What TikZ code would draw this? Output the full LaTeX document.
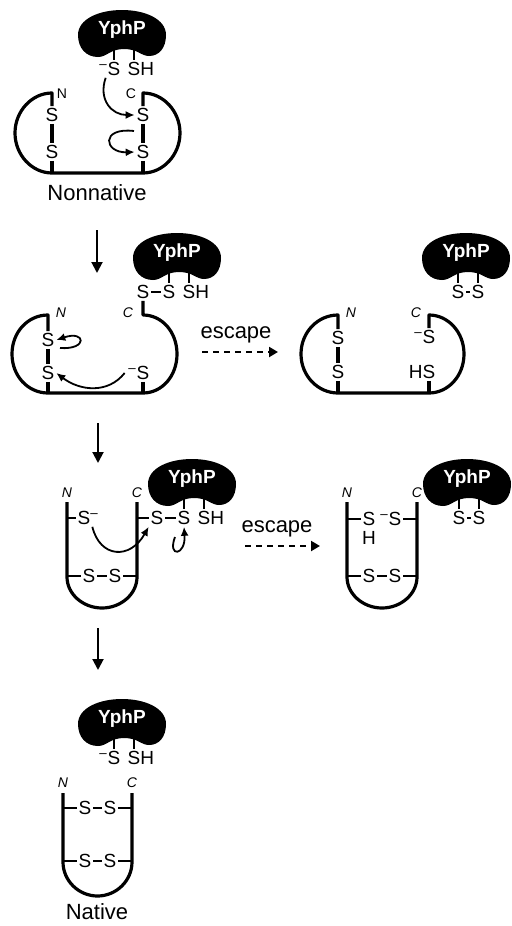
\documentclass[tikz,border=0pt]{standalone}
\usepackage{fontspec}
\setmainfont{Liberation Sans}
\usetikzlibrary{arrows.meta}
\newcommand\anion{\textsuperscript{--}}
\tikzset{
  yphp/.pic={
    \fill (-44,2) .. controls (-44,-14) and (-23,-23) .. (0,-23)
      .. controls (23,-23) and (44,-14) .. (44,2)
      .. controls (44,15) and (37,23) .. (27,23)
      .. controls (19,23) and (16,16) .. (2,16)
      .. controls (-12,16) and (-15,24) .. (-24,24)
      .. controls (-36,24) and (-44,15) .. (-44,2) -- cycle;
    \node[font=\fontsize{9.5}{10}\selectfont\bfseries,text=white] (-name) at (0,-3) {YphP};
    \coordinate (-l) at (-8,15);
    \coordinate (-r) at (12,15);
  }
}

\begin{document}
\begin{tikzpicture}[x=0.5pt,y=-0.5pt,
  backbone/.style={line width=1.6pt,line join=round},
  bond/.style={line width=1.2pt},
  atom/.style={font=\fontsize{9.5}{10}\selectfont,inner sep=.8pt,text height=6.8pt,text depth=0pt},
  term/.style={font=\fontsize{7}{8}\selectfont\itshape,inner sep=0pt},
  captext/.style={font=\fontsize{11}{13}\selectfont,inner sep=1pt},
  react/.style={line width=.9pt,-{Latex[length=4.5pt,width=4pt]}},
  advance/.style={line width=1pt,-{Triangle[length=5.5pt,width=5.5pt]}},
  leak/.style={line width=1pt,dash pattern=on 3pt off 2.5pt,-{Triangle[length=4.5pt,width=5pt]}}]
\useasboundingbox (0,0) rectangle (512,926);
\fill[white] (0,0) rectangle (512,926);

% nonnative
\pic (e1) at (122,33) {yphp};
\node[atom] (e1a) at (e1-l |- 0,69) {\llap{\anion}S};
\node[atom] (e1b) at (e1-r |- 0,69) {S\rlap{H}};
\draw[bond] (e1-l) -- (e1a);
\draw[bond] (e1-r) -- (e1b);
\node[atom] (p1a) at (52,115) {S};
\node[atom] (p1b) at (52,152) {S};
\node[atom] (p1c) at (143,115) {S};
\node[atom] (p1d) at (143,152) {S};
\draw[backbone] (p1a) -- (52,93) .. controls (32,93) and (15,111) .. (15,133) .. controls (15,155) and (32,173) .. (52,173)
  -- (143,173) .. controls (163,173) and (180,155) .. (180,133) .. controls (180,111) and (163,93) .. (143,93) -- (p1c);
\draw[backbone] (p1a) -- (p1b) -- (52,173);
\draw[backbone] (p1c) -- (p1d) -- (143,173);
\node[term,font=\fontsize{7}{8}\selectfont] (p1n) at (62,94) {N};
\node[term,font=\fontsize{7}{8}\selectfont] (p1k) at (131,94) {C};
\draw[react] (e1a.south west) .. controls (98,100) and (112,115) .. (p1c.west);
\coordinate (p1t) at (134,131);
\draw[react] (p1t) .. controls (100,127) and (104,153) .. (p1d.west);
\node[captext] (nonnative) at (97,193) {Nonnative};

\coordinate (s1) at (97,230);
\coordinate (s2) at (97,273);
\draw[advance] (s1) -- (s2);

% mixed disulfide
\pic (e2) at (177,256) {yphp};
\node[atom] (e2a) at (e2-l |- 0,292) {S};
\node[atom] (e2b) at (e2-r |- 0,292) {S\rlap{H}};
\draw[bond] (e2-l) -- (e2a);
\draw[bond] (e2-r) -- (e2b);
\node[atom] (q2) at (143,292) {S};
\draw[bond] (q2) -- (e2a);
\node[atom] (q2a) at (48,340) {S};
\node[atom] (q2b) at (48,373) {S};
\node[atom] (q2c) at (143,373) {\llap{\anion}S};
\draw[backbone] (q2a) -- (48,315) .. controls (28,315) and (12,332) .. (12,354) .. controls (12,376) and (28,393) .. (48,393)
  -- (143,393) .. controls (162,393) and (177,376) .. (177,354) .. controls (177,332) and (162,315) .. (143,315) -- (q2);
\draw[backbone] (q2a) -- (q2b) -- (48,393);
\draw[backbone] (q2c) -- (143,393);
\node[term] (q2n) at (61,313) {N};
\node[term] (q2k) at (128,313) {C};
\coordinate (q2t) at (60,348);
\draw[react] (q2t) .. controls (88,350) and (86,330) .. (q2a.east);
\draw[react] ([xshift=-5pt]q2c.west) .. controls (108,394) and (80,391) .. (q2b.east);

\node[captext] (esc1) at (236,335) {escape};
\coordinate (x1a) at (202,352);
\coordinate (x1b) at (278,352);
\draw[leak] (x1a) -- (x1b);

\pic (e3) at (466,256) {yphp};
\node[atom] (e3a) at (e3-l |- 0,292) {S};
\node[atom] (e3b) at (e3-r |- 0,292) {S};
\draw[bond] (e3-l) -- (e3a);
\draw[bond] (e3-r) -- (e3b);
\draw[bond] (e3a) -- (e3b);
\node[atom] (r3a) at (338,338) {S};
\node[atom] (r3b) at (338,372) {S};
\node[atom] (r3c) at (429,337) {\llap{\anion}S};
\node[atom] (r3d) at (429,372) {\llap{H}S};
\draw[backbone] (r3a) -- (338,315) .. controls (318,315) and (301,332) .. (301,354) .. controls (301,376) and (318,393) .. (338,393)
  -- (429,393) .. controls (448,393) and (464,376) .. (464,354) .. controls (464,332) and (448,315) .. (429,315) -- (r3c);
\draw[backbone] (r3a) -- (r3b) -- (338,393);
\draw[backbone] (r3d) -- (429,393);
\node[term] (r3n) at (351,313) {N};
\node[term] (r3k) at (416,313) {C};

\coordinate (s3) at (98,423);
\coordinate (s4) at (98,463);
\draw[advance] (s3) -- (s4);

% one native pair
\pic (e4) at (192,482) {yphp};
\node[atom] (e4a) at (e4-l |- 0,518) {S};
\node[atom] (e4b) at (e4-r |- 0,518) {S\rlap{H}};
\draw[bond] (e4-l) -- (e4a);
\draw[bond] (e4-r) -- (e4b);
\node[atom] (u4) at (157,518) {S};
\draw[bond] (u4) -- (e4a);
\node[atom] (u4a) at (84,518) {S\rlap{\anion}};
\node[atom] (u4b) at (89,576) {S};
\node[atom] (u4c) at (115,576) {S};
\draw[backbone] (67,502) -- (67,577) .. controls (67,594) and (83,608) .. (102,608) .. controls (121,608) and (137,594) .. (137,577) -- (137,502);
\draw[bond] (67,518) -- (u4a);
\draw[bond] (137,518) -- (u4);
\draw[bond] (67,576) -- (u4b) -- (u4c) -- (137,576);
\node[term] (u4n) at (67,493) {N};
\node[term] (u4k) at (137,493) {C};
\draw[react] (u4a.south east) .. controls (100,558) and (130,560) .. (u4.south west);
\coordinate (u4t) at (175,537);
\draw[react] (u4t) .. controls (167,558) and (186,556) .. (e4a.south);

\node[captext] (esc2) at (277,529) {escape};
\coordinate (x2a) at (245,546);
\coordinate (x2b) at (320,546);
\draw[leak] (x2a) -- (x2b);

\pic (e5) at (467,482) {yphp};
\node[atom] (e5a) at (e5-l |- 0,518) {S};
\node[atom] (e5b) at (e5-r |- 0,518) {S};
\draw[bond] (e5-l) -- (e5a);
\draw[bond] (e5-r) -- (e5b);
\draw[bond] (e5a) -- (e5b);
\node[atom] (v5a) at (369,519) {S};
\node[atom] (v5h) at (369,538) {H};
\node[atom] (v5b) at (395,519) {\llap{\anion}S};
\node[atom] (v5c) at (369,576) {S};
\node[atom] (v5d) at (395,576) {S};
\draw[backbone] (347,502) -- (347,577) .. controls (347,594) and (363,608) .. (382,608) .. controls (401,608) and (417,594) .. (417,577) -- (417,502);
\draw[bond] (347,519) -- (v5a);
\draw[bond] (v5b) -- (417,519);
\draw[bond] (347,576) -- (v5c) -- (v5d) -- (417,576);
\node[term] (v5n) at (347,493) {N};
\node[term] (v5k) at (417,493) {C};

\coordinate (s5) at (98,628);
\coordinate (s6) at (98,670);
\draw[advance] (s5) -- (s6);

% native
\pic (e6) at (122,722) {yphp};
\node[atom] (e6a) at (e6-l |- 0,758) {\llap{\anion}S};
\node[atom] (e6b) at (e6-r |- 0,758) {S\rlap{H}};
\draw[bond] (e6-l) -- (e6a);
\draw[bond] (e6-r) -- (e6b);
\node[atom] (w6a) at (85,808) {S};
\node[atom] (w6b) at (110,808) {S};
\node[atom] (w6c) at (85,861) {S};
\node[atom] (w6d) at (110,861) {S};
\draw[backbone] (63,793) -- (63,862) .. controls (63,881) and (79,896) .. (97.5,896) .. controls (116,896) and (132,881) .. (132,862) -- (132,793);
\draw[bond] (63,808) -- (w6a) -- (w6b) -- (132,808);
\draw[bond] (63,861) -- (w6c) -- (w6d) -- (132,861);
\node[term] (w6n) at (63,783) {N};
\node[term] (w6k) at (132,783) {C};
\node[captext] (native) at (97,912) {Native};
\end{tikzpicture}
\end{document}
